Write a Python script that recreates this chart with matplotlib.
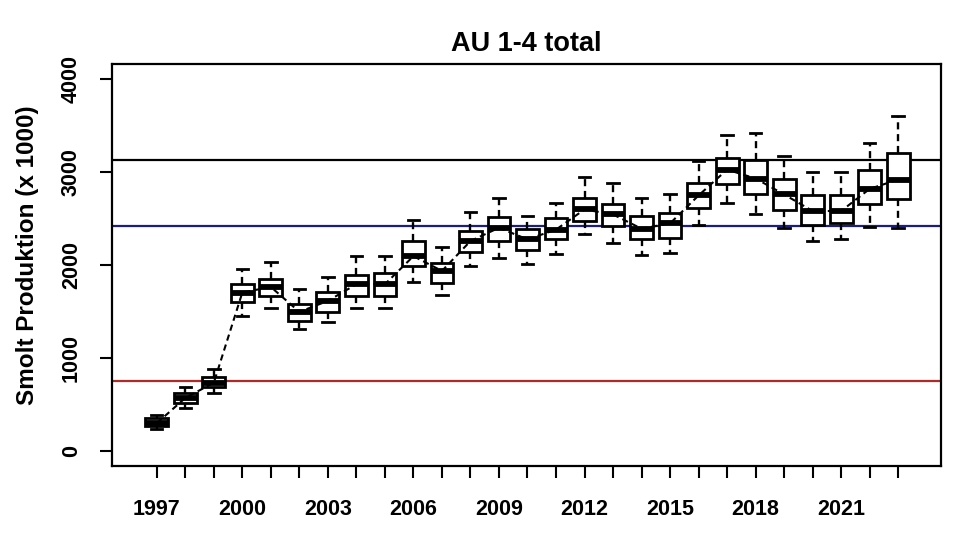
import matplotlib
matplotlib.use("Agg")
import matplotlib.pyplot as plt

years = list(range(1997, 2024))
whislo = [240, 461, 621, 1447, 1539, 1311, 1383, 1536, 1536, 1822, 1678, 1989, 2079, 2007,
          2122, 2329, 2232, 2104, 2125, 2425, 2668, 2543, 2400, 2257, 2275, 2411, 2400]
q1 = [268, 518, 686, 1603, 1668, 1400, 1490, 1668, 1668, 1989, 1804, 2139, 2257, 2161,
      2275, 2472, 2418, 2283, 2293, 2615, 2865, 2765, 2590, 2425, 2454, 2650, 2704]
med = [300, 571, 735, 1704, 1764, 1496, 1614, 1793, 1793, 2095, 1936, 2257, 2400, 2275,
       2380, 2597, 2543, 2390, 2447, 2747, 3025, 2929, 2758, 2580, 2580, 2818, 2918]
q3 = [354, 625, 793, 1800, 1847, 1578, 1715, 1893, 1918, 2257, 2025, 2364, 2518, 2390,
      2500, 2722, 2658, 2525, 2561, 2883, 3150, 3133, 2929, 2747, 2750, 3018, 3204]
whishi = [392, 686, 887, 1961, 2032, 1739, 1871, 2096, 2096, 2479, 2193, 2568, 2722, 2525,
          2669, 2947, 2883, 2722, 2758, 3115, 3395, 3419, 3175, 2997, 2997, 3312, 3597]
ref_lines = [3130, 2415, 750]
ref_colors = ["black", "#1c1c85", "#b02a2a"]
yticks = [0, 1000, 2000, 3000, 4000]
label_years = [1997, 2000, 2003, 2006, 2009, 2012, 2015, 2018, 2021]

plt.rcParams['font.family'] = ['Liberation Sans', 'DejaVu Sans']

fig = plt.figure(figsize=(9.64, 5.44), dpi=100)
ax = fig.add_axes([0.1162, 0.1434, 0.8599, 0.7390])

for v, c in zip(ref_lines, ref_colors):
    ax.axhline(v, color=c, lw=1.6, zorder=1)

stats = []
for i, y in enumerate(years):
    stats.append(dict(med=med[i], q1=q1[i], q3=q3[i], whislo=whislo[i], whishi=whishi[i],
                      fliers=[], label=str(y)))
positions = list(range(1, len(years) + 1))
ax.bxp(stats, positions=positions, widths=0.8, capwidths=0.4, showfliers=False,
       patch_artist=True,
       boxprops=dict(facecolor="white", edgecolor="black", linewidth=2.0),
       medianprops=dict(color="black", linewidth=4.2),
       whiskerprops=dict(color="black", linewidth=1.7, linestyle=(0, (3, 2))),
       capprops=dict(color="black", linewidth=2.0),
       zorder=2)

ax.plot(positions, med, color="black", lw=1.5, linestyle=(0, (3, 2)), zorder=4)

ax.set_xlim(-0.57, 28.5)
ax.set_ylim(-160, 4160)
ax.set_xticks(positions)
ax.set_xticklabels([str(y) if y in label_years else "" for y in years])
ax.set_yticks(yticks)
ax.set_yticklabels([str(t) for t in yticks], rotation=90, va="center")

ax.tick_params(axis="both", length=8.6, width=1.5, labelsize=15.5)
ax.tick_params(axis="x", pad=15)
ax.tick_params(axis="y", pad=13)
for lab in ax.get_xticklabels() + ax.get_yticklabels():
    lab.set_fontweight("bold")
for sp in ax.spines.values():
    sp.set_linewidth(1.6)

ax.set_title("AU 1-4 total", fontsize=19.5, fontweight="bold", pad=9)
fig.text(0.029, 1 - 255 / 544, "Smolt Produktion (x 1000)", rotation=90, fontsize=17.5,
         fontweight="bold", ha="center", va="center")

fig.savefig("out.png", dpi=100)
